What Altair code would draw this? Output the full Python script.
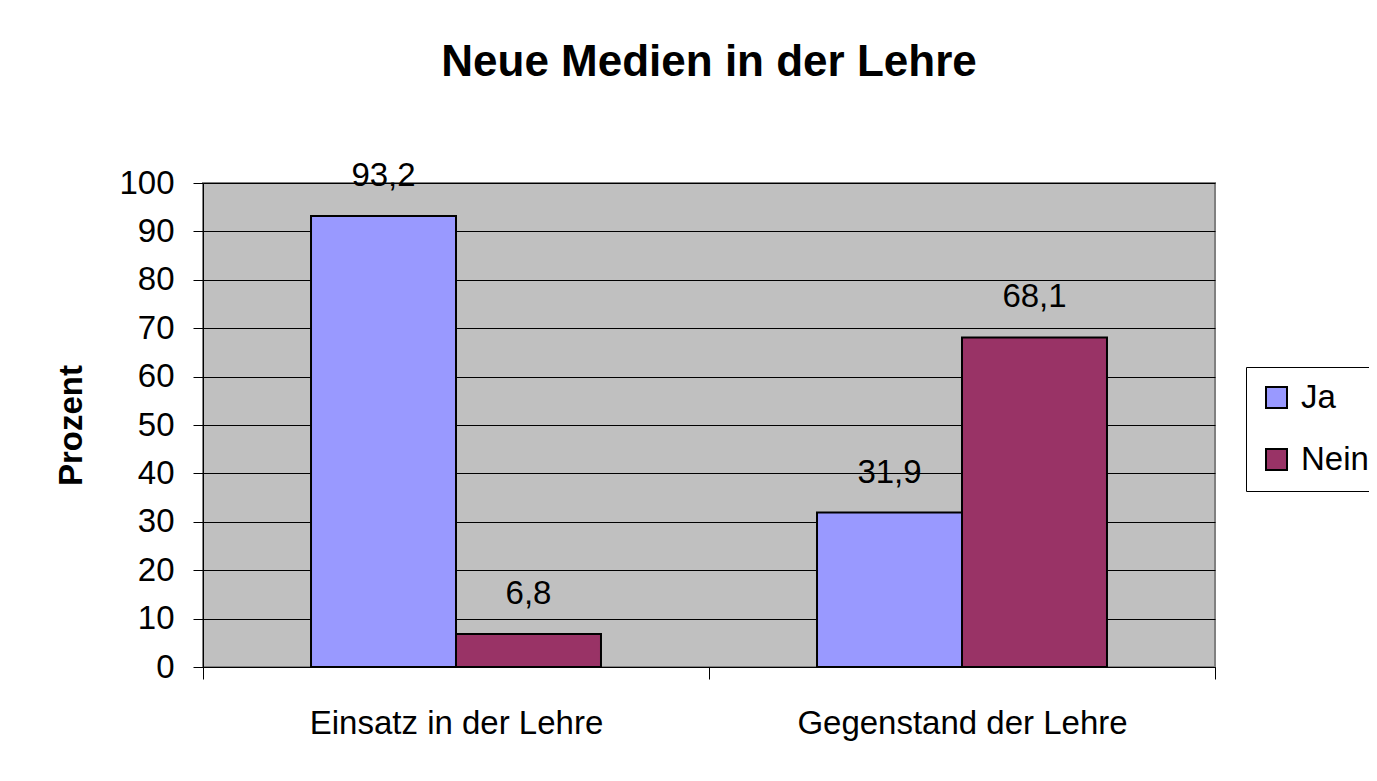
import altair as alt
import pandas as pd

categories = ["Einsatz in der Lehre", "Gegenstand der Lehre"]
series = ["Ja", "Nein"]
ja_values = [93.2, 31.9]
nein_values = [6.8, 68.1]
colors = ["#9999FF", "#993366"]
y_ticks = [0, 10, 20, 30, 40, 50, 60, 70, 80, 90, 100]

rows = []
for i, c in enumerate(categories):
    rows.append({"Kategorie": c, "Serie": "Ja", "Wert": ja_values[i]})
    rows.append({"Kategorie": c, "Serie": "Nein", "Wert": nein_values[i]})
df = pd.DataFrame(rows)

FONT = "Liberation Sans"

x_enc = alt.X(
    "Kategorie:N",
    sort=categories,
    scale=alt.Scale(paddingInner=0, paddingOuter=0),
    axis=alt.Axis(
        title=None,
        labelAngle=0,
        labelLimit=0,
        tickBand="extent",
        tickSize=12,
        tickColor="black",
        domainColor="black",
        labelFontSize=33,
        labelFont=FONT,
        labelColor="black",
        labelPadding=28,
        grid=False,
    ),
)
xoff = alt.XOffset(
    "Serie:N",
    sort=series,
    scale=alt.Scale(paddingInner=0, paddingOuter=0.745),
)
y_enc = alt.Y(
    "Wert:Q",
    scale=alt.Scale(domain=[0, 100], nice=False),
    axis=alt.Axis(
        title="Prozent",
        values=y_ticks,
        titleFont=FONT,
        titleFontSize=33,
        titleFontWeight="bold",
        titleColor="black",
        titlePadding=30,
        labelFont=FONT,
        labelFontSize=33,
        labelColor="black",
        labelPadding=19,
        tickSize=10,
        tickColor="black",
        domainColor="black",
        grid=True,
        gridColor="black",
        gridWidth=1,
        gridOpacity=1,
    ),
)

base = alt.Chart(df)

bars = base.mark_bar(stroke="black", strokeWidth=2).encode(
    x=x_enc,
    xOffset=xoff,
    y=y_enc,
    color=alt.Color(
        "Serie:N",
        sort=series,
        scale=alt.Scale(domain=series, range=colors),
        legend=alt.Legend(
            title=None,
            orient="none",
            legendX=1043,
            legendY=184,
            symbolType="square",
            symbolSize=441,
            symbolStrokeColor="black",
            symbolStrokeWidth=2,
            labelFont=FONT,
            labelFontSize=33,
            labelColor="black",
            labelOffset=8,
            padding=14,
            rowPadding=28,
            strokeColor="black",
            fillColor="white",
        ),
    ),
)

labels = base.transform_calculate(
    label="replace(format(datum.Wert, '.1f'), '.', ',')"
).mark_text(
    font=FONT, fontSize=33, color="black", baseline="alphabetic", dy=-30
).encode(
    x=alt.X("Kategorie:N", sort=categories),
    xOffset=alt.XOffset("Serie:N", sort=series),
    y=alt.Y("Wert:Q"),
    text="label:N",
)

chart = (
    alt.layer(bars, labels)
    .properties(
        width=1012,
        height=484,
        padding={"left": 195, "top": 175, "right": 154, "bottom": 96},
        autosize=alt.AutoSizeParams(type="none"),
        background="white",
        title=alt.Title(
            "Neue Medien in der Lehre",
            font=FONT,
            fontSize=44,
            fontWeight="bold",
            color="black",
            anchor="middle",
            offset=75,
        ),
    )
    .configure_view(fill="#C0C0C0", stroke="#808080", strokeWidth=2)
)

chart.save("out.html", embed_options={"renderer": "svg", "actions": False})
